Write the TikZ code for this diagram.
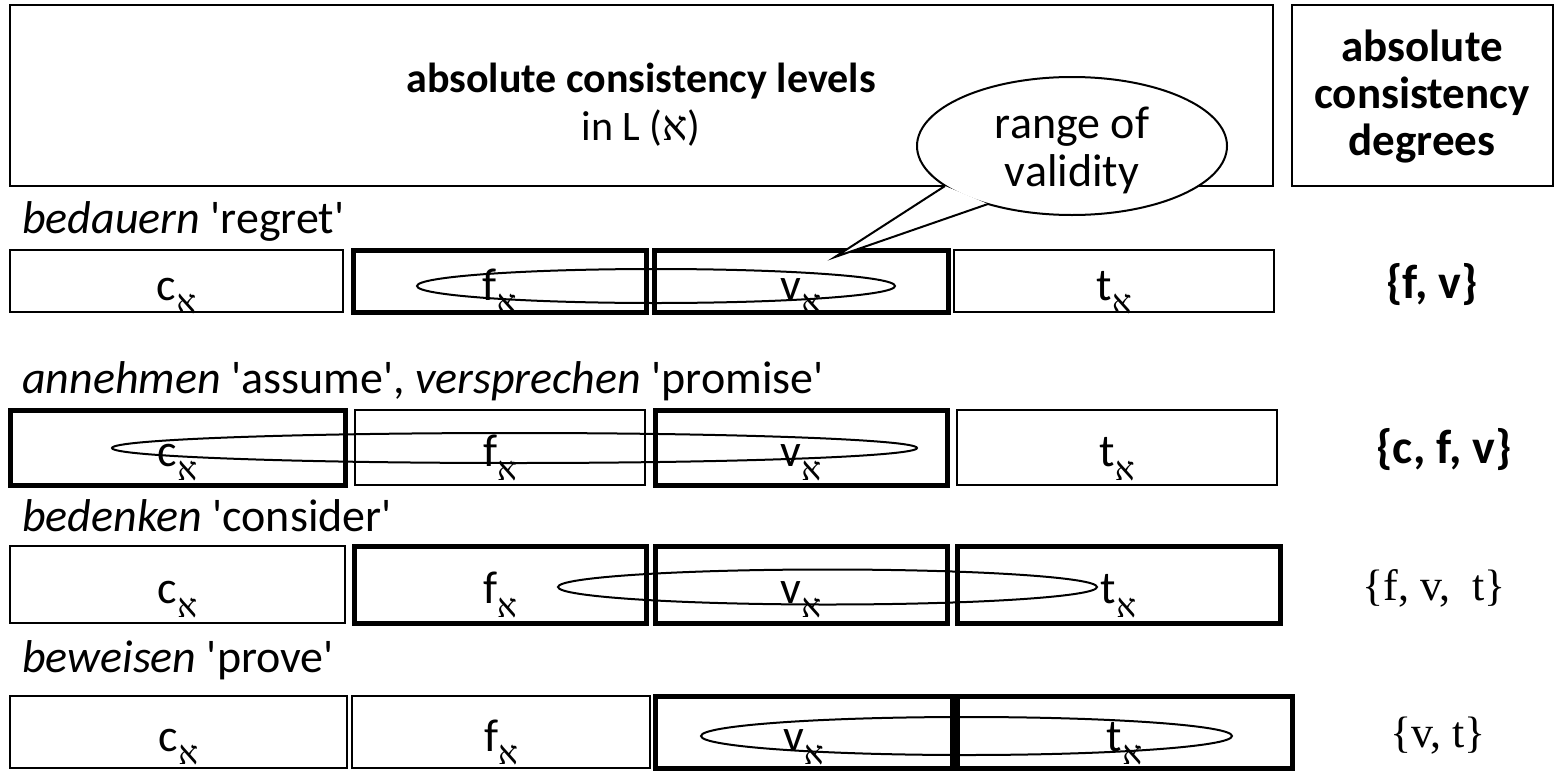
\documentclass[tikz,border=0pt]{standalone}
\usepackage{fontspec}
\setmainfont{Carlito}
\newfontfamily\hebfont{Liberation Serif}
\newfontfamily\degserif{Liberation Serif}
\usetikzlibrary{shapes.geometric}
\newcommand{\alef}{{\hebfont\fontsize{33}{33}\selectfont א}}
\newcommand{\cellt}[1]{#1\smash{\raisebox{-0.3em}{\alef}}}
\newcommand{\sq}{\textquotesingle}
\tikzset{
  cellbase/.style={draw, inner sep=0pt, text height=38pt, text depth=0pt, font=\fontsize{46}{50}\selectfont},
  thinbox/.style={cellbase, line width=2pt},
  boldbox/.style={cellbase, line width=5pt},
  rng/.style={draw, ellipse, line width=2pt, inner sep=0pt},
  rowlab/.style={anchor=base west, inner sep=0pt, font=\fontsize{46}{50}\selectfont},
  degb/.style={inner sep=0pt, font=\bfseries\fontsize{48}{50}\selectfont},
  degs/.style={inner sep=0pt, font=\degserif\fontsize{44}{46}\selectfont},
  head/.style={draw, line width=2pt, inner sep=0pt}
}
\begin{document}
\begin{tikzpicture}[x=1pt,y=-1pt]
\useasboundingbox[fill=white] (0,0) rectangle (1562,771);
% header
\node[head, minimum width=1263pt, minimum height=181pt] (hl) at (641.5,95.5) {};
\node[head, minimum width=261pt, minimum height=181pt] (hr) at (1422.5,95.5) {};
\node[inner sep=0pt, anchor=base, font=\bfseries\fontsize{42}{46}\selectfont] (t1) at (641,92) {absolute consistency levels};
\node[inner sep=0pt, anchor=base, font=\fontsize{42}{46}\selectfont] (t2) at (641,140) {in L ({\hebfont א})};
\node[inner sep=0pt, align=center, font=\bfseries\fontsize{45}{47}\selectfont] (t3) at (1422,97) {absolute\\consistency\\degrees};
% row 1
\node[rowlab] (l1) at (22,233) {\textit{bedauern} \sq regret\sq};
\node[thinbox, minimum width=333pt, minimum height=62pt] (c1) at (176.5,281) {\cellt{c}};
\node[boldbox, minimum width=293pt, minimum height=62pt] (f1) at (499.5,281) {\cellt{f}};
\node[boldbox, minimum width=294pt, minimum height=62pt] (v1) at (801,281) {\cellt{v}};
\node[thinbox, minimum width=320pt, minimum height=62pt] (tt1) at (1114,281) {\cellt{t}};
\node[degb] (d1) at (1432,285) {\{f, v\}};
\node[rng, minimum width=478pt, minimum height=34pt] (e1) at (656,286) {};
% row 2
\node[rowlab] (l2) at (22,393) {\textit{annehmen} \sq assume\sq, \textit{versprechen} \sq promise\sq};
\node[boldbox, minimum width=335pt, minimum height=75pt] (c2) at (177.5,447.5) {\cellt{c}};
\node[thinbox, minimum width=290pt, minimum height=75pt] (f2) at (500,447.5) {\cellt{f}};
\node[boldbox, minimum width=292pt, minimum height=75pt] (v2) at (801,447.5) {\cellt{v}};
\node[thinbox, minimum width=320pt, minimum height=75pt] (tt2) at (1117,447.5) {\cellt{t}};
\node[degb] (d2) at (1444,450) {\{c, f, v\}};
\node[rng, minimum width=805pt, minimum height=30pt] (e2) at (514.5,448) {};
% row 3
\node[rowlab] (l3) at (22,531) {\textit{bedenken} \sq consider\sq};
\node[thinbox, minimum width=335pt, minimum height=77pt] (c3) at (177.5,584.5) {\cellt{c}};
\node[boldbox, minimum width=292pt, minimum height=77pt] (f3) at (500,584.5) {\cellt{f}};
\node[boldbox, minimum width=292pt, minimum height=77pt] (v3) at (801,584.5) {\cellt{v}};
\node[boldbox, minimum width=323pt, minimum height=77pt] (tt3) at (1118.5,584.5) {\cellt{t}};
\node[degs] (d3) at (1434,588) {\{f, v,\ \ t\}};
\node[rng, minimum width=539pt, minimum height=35pt] (e3) at (827.5,587) {};
% row 4
\node[rowlab] (l4) at (22,672) {\textit{beweisen} \sq prove\sq};
\node[thinbox, minimum width=337pt, minimum height=72pt] (c4) at (178.5,732) {\cellt{c}};
\node[thinbox, minimum width=298pt, minimum height=72pt] (f4) at (501,732) {\cellt{f}};
\node[boldbox, minimum width=297pt, minimum height=72pt] (v4) at (803.5,732) {\cellt{v}};
\node[boldbox, minimum width=335pt, minimum height=72pt] (tt4) at (1124.5,732) {\cellt{t}};
\node[degs] (d4) at (1438,736) {\{v, t\}};
\node[rng, minimum width=531pt, minimum height=38pt] (e4) at (966.5,736) {};
% callout
\node[draw, ellipse, fill=white, line width=2pt, minimum width=310pt, minimum height=138pt,
      inner sep=0pt] (co) at (1072,146) {};
\node[inner sep=0pt, align=center, font=\fontsize{46}{48}\selectfont] (cot) at (1072,150) {range of\\validity};
\coordinate (tip) at (835,257);
\coordinate (b1) at (945,186);
\coordinate (b2) at (988,204);
\fill[white] (b1) -- (tip) -- (b2) -- cycle;
\draw[line width=2pt, line join=miter] (b1) -- (tip) -- (b2);
\end{tikzpicture}
\end{document}
